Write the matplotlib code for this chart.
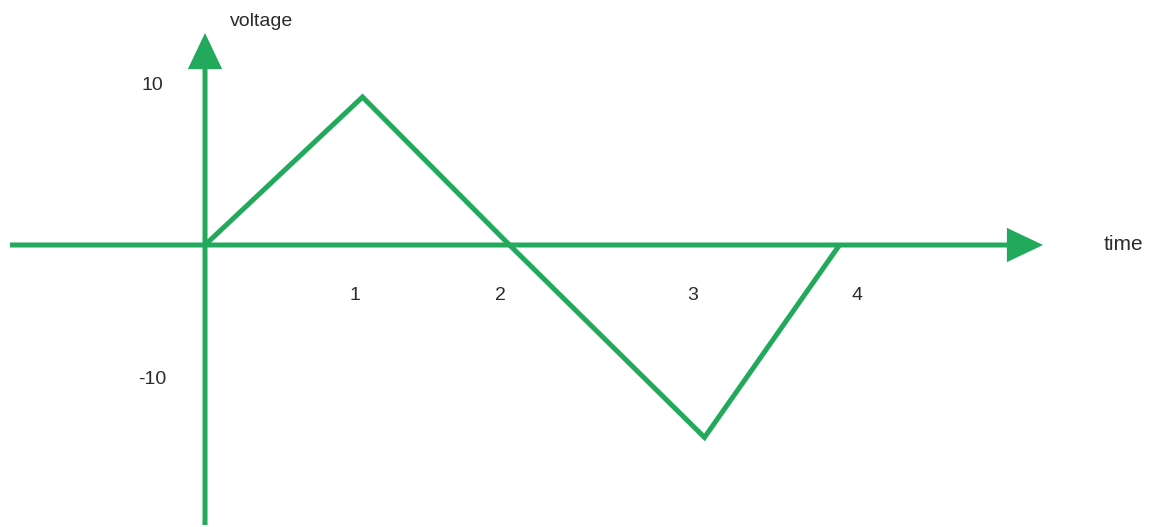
import matplotlib
matplotlib.use("Agg")
from matplotlib import pyplot as plt
from matplotlib.patches import FancyArrowPatch

plt.rcParams['font.family'] = ['Liberation Sans', 'DejaVu Sans']

# waveform vertices (time units, voltage)
time = [0, 1.05, 2.03, 3.33, 4.23]
voltage = [0, 10, 0, -13, 0]

# labels as drawn on the sketch
x_tick_pos = [1.0, 1.97, 3.25, 4.35]
x_tick_labels = ["1", "2", "3", "4"]
y_tick_pos = [10.8, -9.1]
y_tick_labels = ["10", "-10"]

green = '#22a95c'
text_color = '#2b2b2b'

fig = plt.figure(figsize=(11.5, 5.27), dpi=100)
ax = fig.add_axes([0, 0, 1, 1])
ax.set_xlim(-205 / 150, 945 / 150)
ax.set_ylim(-282 / 14.8, 245 / 14.8)
ax.axis('off')

# axes drawn as arrows
style = '-|>,head_length=2.0,head_width=0.95'
for start, end in [((-195 / 150, 0), (838 / 150, 0)),
                   ((0, -280 / 14.8), (0, 212 / 14.8))]:
    arr = FancyArrowPatch(start, end, arrowstyle=style, mutation_scale=10,
                          lw=3.6, color=green, shrinkA=0, shrinkB=0)
    arr.set_joinstyle('miter')
    arr.set_capstyle('butt')
    ax.add_patch(arr)

ax.plot(time, voltage, color=green, lw=3.6, solid_joinstyle='miter',
        solid_capstyle='butt')

for x, s in zip(x_tick_pos, x_tick_labels):
    ax.text(x, -3.4, s, ha='center', va='center', fontsize=14, color=text_color)
for y, s in zip(y_tick_pos, y_tick_labels):
    ax.text(-0.35, y, s, ha='center', va='center', fontsize=14, color=text_color)

ax.text(918 / 150, 0, "time", ha='center', va='center', fontsize=15, color=text_color)
ax.text(57 / 150, 15.1, "voltage", ha='center', va='center', fontsize=14, color=text_color)

plt.savefig("out.png", dpi=100)
